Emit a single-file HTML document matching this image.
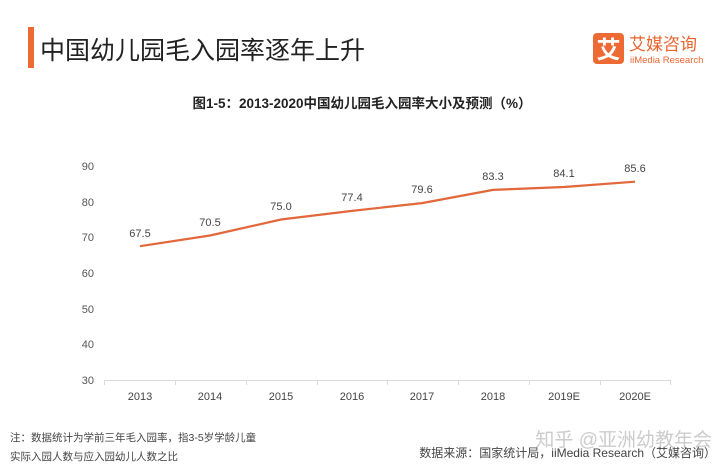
<!DOCTYPE html>
<html><head><meta charset="utf-8"><style>
body{margin:0;width:720px;height:468px;background:#fff;overflow:hidden;font-family:"Liberation Sans","Noto Sans CJK SC",sans-serif;}
</style></head><body>
<svg width="720" height="468" xmlns="http://www.w3.org/2000/svg" font-family="Liberation Sans, Noto Sans CJK SC, sans-serif">
<rect x="28" y="27" width="6" height="41" fill="#ee6a35"/>
<text x="40" y="59" font-size="25" fill="#222">中国幼儿园毛入园率逐年上升</text>
<rect x="593" y="33" width="31" height="31" rx="4" fill="#ee6a35"/>
<text x="608.5" y="58" font-size="24" font-weight="bold" fill="#fff" text-anchor="middle">艾</text>
<text x="629" y="50" font-size="17" fill="#e8652f">艾媒咨询</text>
<text x="630" y="63" font-size="9.5" fill="#e8652f">iiMedia Research</text>
<text x="362" y="108" font-size="13.5" font-weight="bold" fill="#222" text-anchor="middle">图1-5：2013-2020中国幼儿园毛入园率大小及预测（%）</text>
<g font-size="11" fill="#555" text-anchor="end">
<text x="94" y="170">90</text><text x="94" y="206">80</text><text x="94" y="241">70</text><text x="94" y="277">60</text><text x="94" y="313">50</text><text x="94" y="348">40</text><text x="94" y="384">30</text>
</g>
<line x1="104" y1="380.5" x2="671" y2="380.5" stroke="#d9d9d9"/>
<g stroke="#d9d9d9">
<line x1="104.5" y1="380" x2="104.5" y2="385"/><line x1="175.5" y1="380" x2="175.5" y2="385"/><line x1="246.5" y1="380" x2="246.5" y2="385"/><line x1="317.5" y1="380" x2="317.5" y2="385"/><line x1="387.5" y1="380" x2="387.5" y2="385"/><line x1="458.5" y1="380" x2="458.5" y2="385"/><line x1="529.5" y1="380" x2="529.5" y2="385"/><line x1="600.5" y1="380" x2="600.5" y2="385"/><line x1="670.5" y1="380" x2="670.5" y2="385"/>
</g>
<g font-size="11" fill="#444" text-anchor="middle">
<text x="140" y="400">2013</text><text x="210" y="400">2014</text><text x="281" y="400">2015</text><text x="352" y="400">2016</text><text x="422" y="400">2017</text><text x="493" y="400">2018</text><text x="564" y="400">2019E</text><text x="635" y="400">2020E</text>
</g>
<polyline fill="none" stroke="#e2673a" stroke-width="2.2" points="140,246.2 210,235.5 281,219.5 352,210.9 422,203.1 493,189.9 564,187.0 635,181.7"/>
<g font-size="11" fill="#444" text-anchor="middle">
<text x="140" y="237">67.5</text><text x="210" y="226">70.5</text><text x="281" y="210">75.0</text><text x="352" y="201">77.4</text><text x="422" y="193">79.6</text><text x="493" y="180">83.3</text><text x="564" y="177">84.1</text><text x="635" y="172">85.6</text>
</g>
<text x="10" y="441" font-size="10.5" fill="#444">注：数据统计为学前三年毛入园率，指3-5岁学龄儿童</text>
<text x="10" y="460" font-size="10.5" fill="#444">实际入园人数与应入园幼儿人数之比</text>
<text x="712" y="446" font-size="19" fill="#ccc" text-anchor="end">知乎 @亚洲幼教年会</text>
<text x="716" y="457" font-size="12" fill="#444" text-anchor="end">数据来源：国家统计局，iiMedia Research（艾媒咨询）</text>
</svg>
</body></html>
